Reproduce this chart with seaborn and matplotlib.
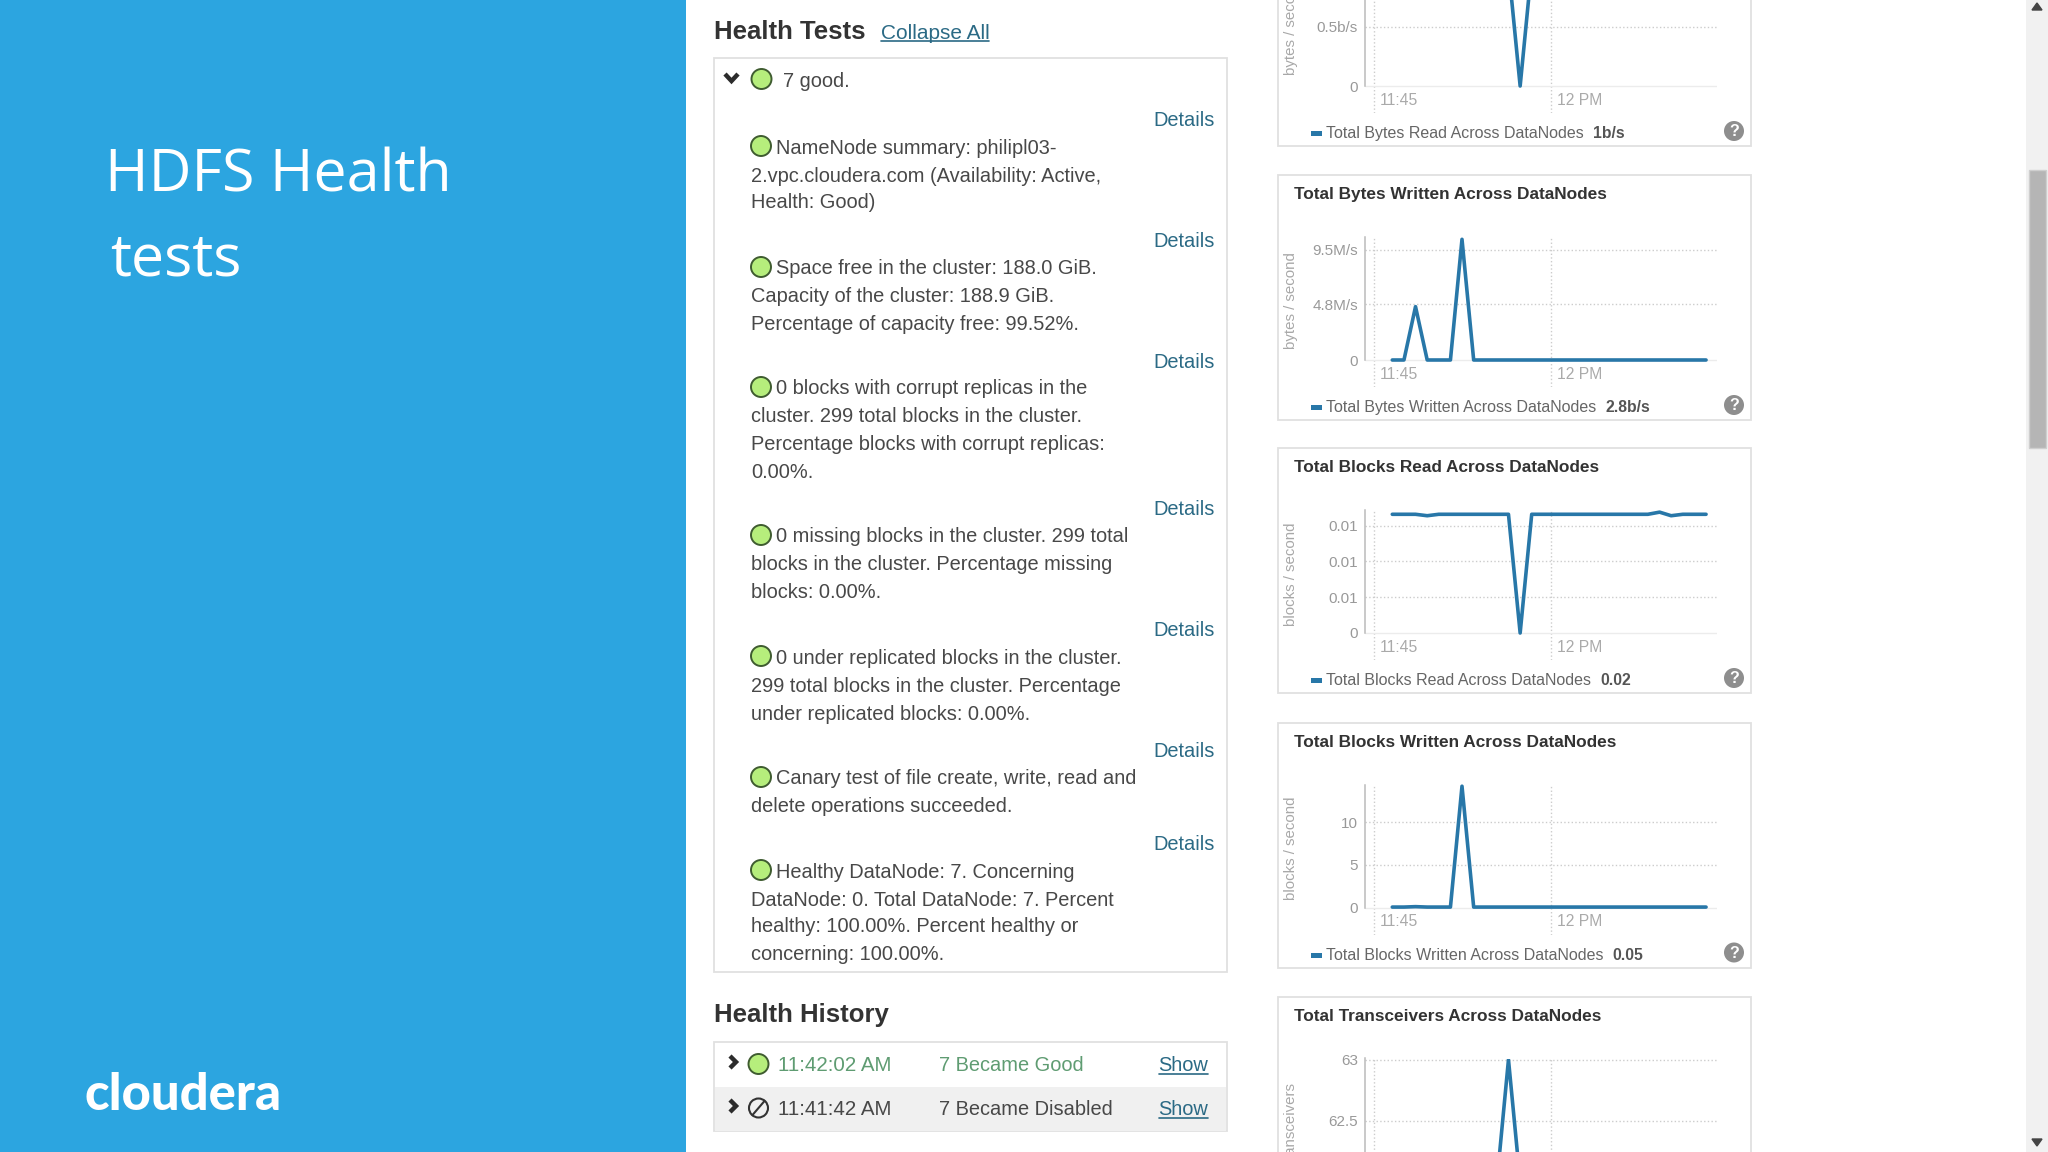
import matplotlib
matplotlib.use("Agg")
import matplotlib.pyplot as plt
from matplotlib.patches import Rectangle, Circle
import seaborn as sns

# ---------- data ----------
minutes = [1.55, 2.54, 3.52, 4.51, 5.49, 6.48, 7.46, 8.45, 9.43, 10.42, 11.4, 12.39, 13.37, 14.36,
           15.34, 16.33, 17.31, 18.3, 19.28, 20.27, 21.25, 22.24, 23.22, 24.21, 25.19, 26.18, 27.16, 28.15]
bytes_read = [1, 1, 1, 1, 1, 1, 1, 1, 1, 1, 1, 0, 1, 1,
              1, 1, 1, 1, 1, 1, 1, 1, 1, 1, 1, 1, 1, 1]
bytes_written = [0, 0, 4.6, 0, 0, 0, 10.4, 0, 0, 0, 0, 0, 0, 0,
                 0, 0, 0, 0, 0, 0, 0, 0, 0, 0, 0, 0, 0, 0]
blocks_read = [0.0166, 0.0166, 0.0166, 0.0164, 0.0166, 0.0166, 0.0166, 0.0166, 0.0166, 0.0166, 0.0166, 0, 0.0166, 0.0166,
               0.0166, 0.0166, 0.0166, 0.0166, 0.0166, 0.0166, 0.0166, 0.0166, 0.0166, 0.0169, 0.0164, 0.0166, 0.0166, 0.0166]
blocks_written = [0.05, 0.05, 0.1, 0.05, 0.05, 0.05, 14.2, 0.05, 0.05, 0.05, 0.05, 0.05, 0.05, 0.05,
                  0.05, 0.05, 0.05, 0.05, 0.05, 0.05, 0.05, 0.05, 0.05, 0.05, 0.05, 0.05, 0.05, 0.05]
transceivers = [62, 62, 62, 62, 62, 62, 62, 62, 62, 62, 63, 62, 62, 62,
                62, 62, 62, 62, 62, 62, 62, 62, 62, 62, 62, 62, 62, 62]

time_ticks = [0, 15]
time_labels = ["11:45", "12 PM"]

chart_titles = ["Total Bytes Read Across DataNodes", "Total Bytes Written Across DataNodes",
                "Total Blocks Read Across DataNodes", "Total Blocks Written Across DataNodes",
                "Total Transceivers Across DataNodes"]
chart_units = ["bytes / second", "bytes / second", "blocks / second", "blocks / second", "transceivers"]
chart_current = ["1b/s", "2.8b/s", "0.02", "0.05", None]
chart_series = [bytes_read, bytes_written, blocks_read, blocks_written, transceivers]
chart_yticks = [[0, 0.5], [0, 4.8, 9.5], [0, 0.005, 0.01, 0.015], [0, 5, 10], [62, 62.5, 63]]
chart_ylabels = [["0", "0.5b/s"], ["0", "4.8M/s", "9.5M/s"], ["0", "0.01", "0.01", "0.01"],
                 ["0", "5", "10"], ["", "62.5", "63"]]

health_lines = [
    ["NameNode summary: philipl03-", "2.vpc.cloudera.com (Availability: Active,", "Health: Good)"],
    ["Space free in the cluster: 188.0 GiB.", "Capacity of the cluster: 188.9 GiB.", "Percentage of capacity free: 99.52%."],
    ["0 blocks with corrupt replicas in the", "cluster. 299 total blocks in the cluster.",
     "Percentage blocks with corrupt replicas:", "0.00%."],
    ["0 missing blocks in the cluster. 299 total", "blocks in the cluster. Percentage missing", "blocks: 0.00%."],
    ["0 under replicated blocks in the cluster.", "299 total blocks in the cluster. Percentage",
     "under replicated blocks: 0.00%."],
    ["Canary test of file create, write, read and", "delete operations succeeded."],
    ["Healthy DataNode: 7. Concerning", "DataNode: 0. Total DataNode: 7. Percent",
     "healthy: 100.00%. Percent healthy or", "concerning: 100.00%."],
]
history_times = ["11:42:02 AM", "11:41:42 AM"]
history_events = ["7 Became Good", "7 Became Disabled"]

# ---------- layout ----------
W, H = 2048, 1152
sns.set_theme(style="white")
plt.rcParams["font.family"] = ["Liberation Sans", "DejaVu Sans"]
fig = plt.figure(figsize=(W / 100, H / 100), dpi=100, facecolor="white")
bg = fig.add_axes([0, 0, 1, 1], zorder=0)
bg.set_xlim(0, W)
bg.set_ylim(H, 0)
bg.axis("off")

BLUE = "#2ca5e0"
TXT = "#484848"
LINK = "#2b6a85"
LINE = "#2877a8"
BORDER = "#e0e0e0"


def T(x, y, s, size=14.45, color=TXT, weight="normal", ha="left", va="baseline", **kw):
    return bg.text(x, y, s, fontsize=size, color=color, fontweight=weight, ha=ha, va=va, **kw)


def box(x0, y0, x1, y1, fc="white", ec=BORDER, lw=1.3, z=1):
    bg.add_patch(Rectangle((x0, y0), x1 - x0, y1 - y0, fc=fc, ec=ec, lw=lw, zorder=z))


def good(x, y, r=10):
    bg.add_patch(Circle((x, y), r, fc="#b6ee7c", ec="#3f5c30", lw=1.4, zorder=3))


def chev(pts, lw=3.2):
    bg.plot([p[0] for p in pts], [p[1] for p in pts], color="#2c2c2c", lw=lw, zorder=3,
            solid_capstyle="butt", solid_joinstyle="miter")


def underline(x0, x1, y):
    bg.plot([x0, x1], [y, y], color=LINK, lw=1.2, zorder=3)


# left band
bg.add_patch(Rectangle((0, 0), 686, H, fc=BLUE, ec="none", zorder=1))
T(105, 192, "HDFS Health", size=42.6, color="white", family="Open Sans", zorder=4)
T(110, 275, "tests", size=42.6, color="white", family="Open Sans", zorder=4)
T(84, 1110, "cloudera", size=36.5, color="white", weight="black", family="Lato", zorder=4)

# Health tests panel
T(714, 39, "Health Tests", size=18.5, color="#333333", weight="bold")
T(881, 39, "Collapse All", size=15, color=LINK)
underline(881, 989, 41)
box(714, 58, 1227, 972)
chev([(725, 74), (731.5, 81), (738, 74)])
good(761.5, 79)
T(783, 87, "7 good.")

details_y = [119, 240, 361, 508, 629, 750, 843]
line_y = [[146, 174, 201], [267, 295, 323], [387, 415, 443, 470],
          [535, 563, 590], [656, 684, 712], [777, 804], [870, 898, 925, 952]]
for dy, ys, lines in zip(details_y, line_y, health_lines):
    T(1215, dy + 7, "Details", color=LINK, ha="right")
    good(761, ys[0])
    for i, (yy, s) in enumerate(zip(ys, lines)):
        T(776 if i == 0 else 751, yy + 7.5, s)

# Health history panel
T(714, 1022, "Health History", size=18.5, color="#333333", weight="bold")
box(714, 1042, 1227, 1131)
bg.add_patch(Rectangle((715, 1087), 511, 43.5, fc="#f0f0f0", ec="none", zorder=2))
for yy in (1062, 1106):
    chev([(730, yy - 6), (736, yy), (730, yy + 6)])
good(758.5, 1064)
bg.add_patch(Circle((758.5, 1108), 9.5, fc="none", ec="#333333", lw=1.5, zorder=3))
bg.plot([752.5, 764.5], [1115, 1101], color="#333333", lw=1.5, zorder=3)
for yy, tm, ev, col in zip((1071, 1115), history_times, history_events, ("#5f9c72", TXT)):
    T(778, yy, tm, size=14.8, color=col, zorder=4)
    T(939, yy, ev, color=col, zorder=4)
    T(1208, yy, "Show", color=LINK, ha="right", zorder=4)
    underline(1159, 1208, yy + 3)


# line charts
def chart(top, idx, ymax):
    box(1278, top, 1751, top + 245)
    ys = chart_series[idx]
    base = chart_yticks[idx][0]
    lo = base - (ymax - base) * 27 / 123
    ax = fig.add_axes([1365 / W, 1 - (top + 212) / H, 352 / W, 150 / H], zorder=2)
    ax.patch.set_alpha(0)
    sns.lineplot(x=minutes, y=ys, ax=ax, color=LINE, linewidth=2.6, errorbar=None, zorder=5)
    ax.set_xlim(-9 / 11.8, 343 / 11.8 + 0.01)
    ax.set_ylim(lo, ymax)
    ax.set_xticks(time_ticks)
    ax.set_xticklabels([])
    ax.set_yticks(chart_yticks[idx])
    ax.set_yticklabels(chart_ylabels[idx], fontsize=11.0, color="#999999")
    ax.tick_params(axis="both", length=0, pad=5)
    ax.grid(True, linestyle=":", color="#cccccc", linewidth=1.0)
    ax.get_ygridlines()[0].set(linestyle="-", color="#ececec")
    for sp in ("top", "right", "bottom"):
        ax.spines[sp].set_visible(False)
    ax.spines["left"].set(color="#bbbbbb", linewidth=1.1, bounds=(base, ymax))
    T(1291, top + 126, chart_units[idx], size=10.8, color="#a8a8a8", rotation=90,
      ha="center", va="center", zorder=4)
    if top >= 0:
        T(1294, top + 24.5, chart_titles[idx], size=12.4, color="#333333", weight="bold", zorder=4)
    if chart_current[idx] is not None:
        for tk, lb in zip(time_ticks, time_labels):
            ax.annotate(lb, xy=(tk, base), xytext=(6, -19), textcoords="offset pixels",
                        fontsize=11.3, color="#aaaaaa", ha="left", va="baseline")
        bg.add_patch(Rectangle((1311, top + 230), 11, 5, fc=LINE, ec="none", zorder=4))
        lbl = T(1326, top + 237, chart_titles[idx], size=11.5, color="#666666", zorder=4)
        fig.canvas.draw()
        w = lbl.get_window_extent().width
        T(1326 + w + 9, top + 237, chart_current[idx], size=11.3, color="#555555", weight="bold", zorder=4)
        bg.add_patch(Circle((1734, top + 230), 10, fc="#8e8e8e", ec="none", zorder=4))
        T(1734, top + 230.5, "?", size=11.5, color="white", weight="bold", ha="center", va="center", zorder=5)
    return ax


chart(-99, 0, 1.037)
chart(175, 1, 10.6)
chart(448, 2, 0.0172)
chart(722.5, 3, 14.4)
chart(996.5, 4, 63.01)

# scrollbar
bg.add_patch(Rectangle((2026, 0), 22, H, fc="#f1f1f1", ec="none", zorder=1))
bg.add_patch(Rectangle((2029, 170), 17, 278, fc="#b5b5b5", ec="#cfcfcf", lw=1, zorder=2))
bg.fill([2032, 2042, 2037], [10, 10, 3], color="#444444", zorder=3)
bg.fill([2032, 2042, 2037], [1139, 1139, 1146], color="#444444", zorder=3)

fig.savefig("out.png", dpi=100)
